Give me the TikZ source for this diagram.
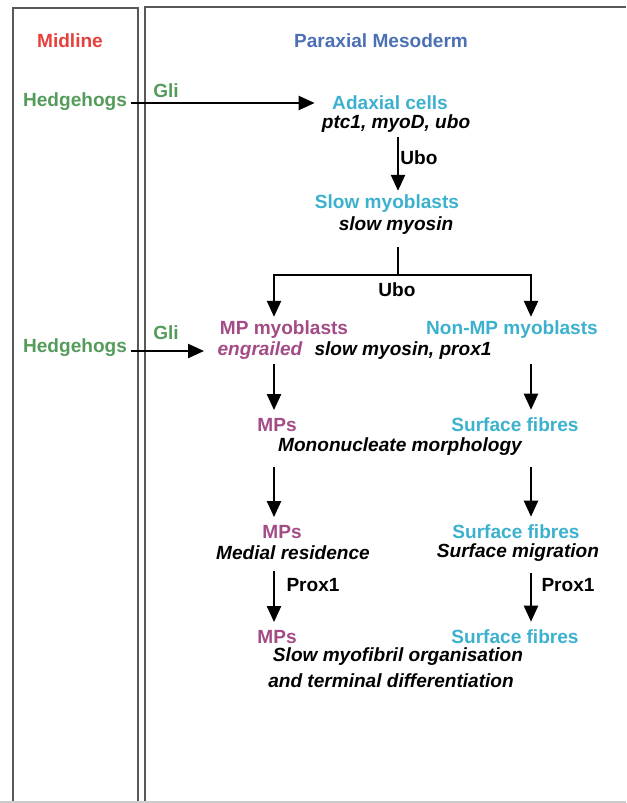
\documentclass[tikz,border=0pt]{standalone}
\usepackage{fontspec}
\setmainfont{Liberation Sans}
\usepackage{xcolor}
\usetikzlibrary{arrows.meta}

\definecolor{midred}{HTML}{E5403C}
\definecolor{parblue}{HTML}{4D70B5}
\definecolor{hhgreen}{HTML}{559C5C}
\definecolor{slowcyan}{HTML}{3CB1CE}
\definecolor{mpmag}{HTML}{A34B86}

\begin{document}
\begin{tikzpicture}[x=0.75pt, y=-0.75pt,
  lbl/.style={font=\bfseries\fontsize{14.3}{17}\selectfont, inner sep=3pt},
  gene/.style={lbl, font=\bfseries\itshape\fontsize{14.3}{17}\selectfont},
  frame/.style={draw=black!65, line width=1.2pt},
  arrow/.style={-{Triangle[length=12pt,width=10.5pt]}, line width=1.7pt},
  varrow/.style={arrow, shorten <=5pt, shorten >=3pt},
  line/.style={line width=1.7pt}
]
\useasboundingbox (0,0) rectangle (626,803);
\draw[frame] (13,803) -- (13,8) -- (138,8) -- (138,803);
\draw[frame] (145,803) -- (145,7) -- (626,7);
\draw[black!20, line width=1pt] (0,802) -- (626,802);

\node[lbl, text=midred] (mid) at (70,41) {Midline};
\node[lbl, text=parblue] (pm) at (381,41) {Paraxial Mesoderm};

\node[lbl, text=hhgreen] (hh1) at (75,102) {Hedgehogs};
\node[lbl, text=hhgreen] (gli1) at (166,91) {Gli};
\node[lbl, text=slowcyan] (adax) at (390,103) {Adaxial cells};
\node[gene] (adaxg) at (396,124) {ptc1, myoD, ubo};
\node[lbl] (ubo1) at (419,158) {Ubo};
\node[lbl, text=slowcyan] (slow) at (387,204) {Slow myoblasts};
\node[gene] (slowg) at (396,226) {slow myosin};
\node[lbl] (ubo2) at (397,290) {Ubo};

\node[lbl, text=hhgreen] (hh2) at (75,348) {Hedgehogs};
\node[lbl, text=hhgreen] (gli2) at (166,333) {Gli};
\node[lbl, text=mpmag] (mpm) at (284,330) {MP myoblasts};
\node[gene, text=mpmag] (eng) at (260,351) {engrailed};
\node[gene] (slowprox) at (403,351) {slow myosin, prox1};
\node[lbl, text=slowcyan] (nonmp) at (512,330) {Non-MP myoblasts};

\node[lbl, text=mpmag] (mps1) at (277,425) {MPs};
\node[lbl, text=slowcyan] (sf1) at (515,425) {Surface fibres};
\node[gene] (mono) at (400,447) {Mononucleate morphology};

\node[lbl, text=mpmag] (mps2) at (282,532) {MPs};
\node[gene] (medial) at (293,553) {Medial residence};
\node[lbl, text=slowcyan] (sf2) at (516,532) {Surface fibres};
\node[gene] (migr) at (518,553) {Surface migration};
\node[lbl] (prox1) at (313,585) {Prox1};
\node[lbl] (prox2) at (568,585) {Prox1};

\node[lbl, text=mpmag] (mps3) at (277,637) {MPs};
\node[lbl, text=slowcyan] (sf3) at (515,637) {Surface fibres};
\node[gene] (myof) at (398,657) {Slow myofibril organisation};
\node[gene] (term) at (391,681) {and terminal differentiation};

\coordinate (lc) at (274,0);
\coordinate (rc) at (531,0);
\coordinate (split) at (398,275);

\draw[arrow, shorten >=10pt] (hh1.east |- adax) -- (adax.west);
\draw[arrow, shorten >=7pt] (hh2.east |- eng) -- (eng.west);
\draw[arrow] (adaxg.south -| split) -- (split |- slow.north);
\draw[line, shorten <=6pt] (slowg.south -| split) -- (split);
\draw[arrow] (split) -| (lc |- mpm.north);
\draw[arrow] (split) -| (rc |- nonmp.north);
\draw[varrow, shorten <=0pt] (lc |- eng.south) -- (lc |- mps1.north);
\draw[varrow, shorten <=0pt] (rc |- slowprox.south) -- (rc |- sf1.north);
\draw[varrow] (lc |- mono.south) -- (lc |- mps2.north);
\draw[varrow] (rc |- mono.south) -- (rc |- sf2.north);
\draw[varrow] (lc |- medial.south) -- (lc |- mps3.north);
\draw[varrow] (rc |- migr.south) -- (rc |- sf3.north);
\end{tikzpicture}
\end{document}
